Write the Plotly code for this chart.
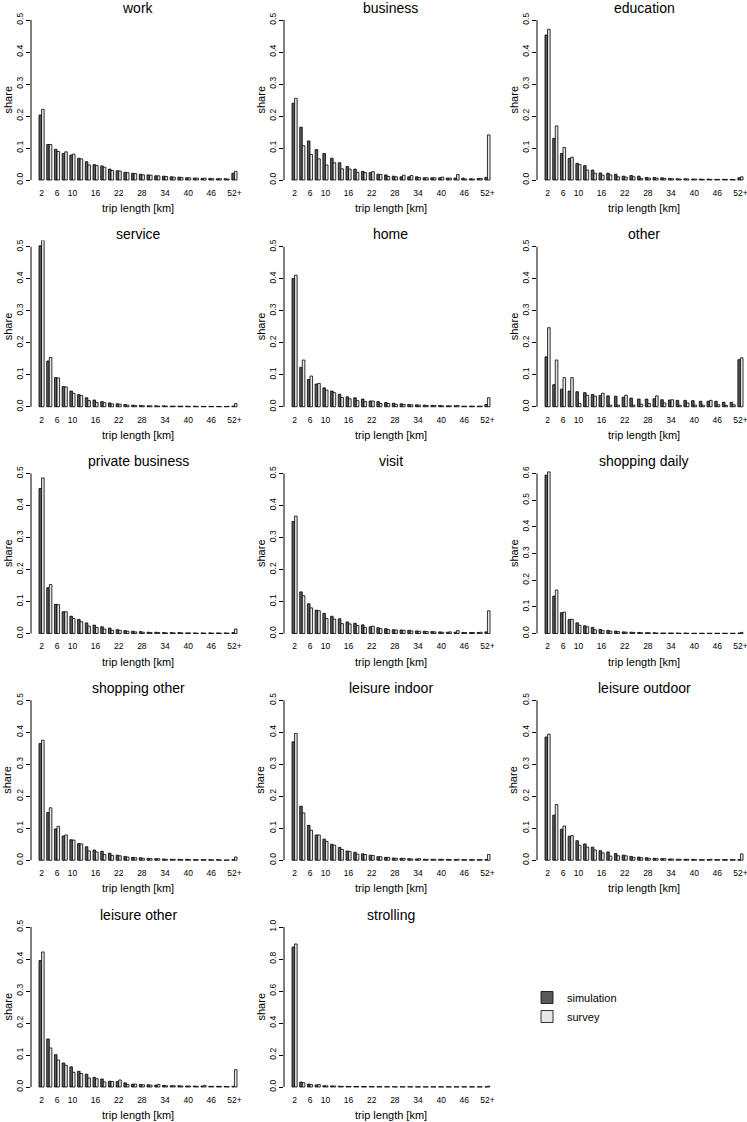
import plotly.graph_objects as go

# ---------------- data ----------------
trip_length = ["2", "4", "6", "8", "10", "12", "14", "16", "18", "20", "22", "24", "26",
               "28", "30", "32", "34", "36", "38", "40", "42", "44", "46", "48", "50", "52+"]
tick_labels = ["2", "6", "10", "16", "22", "28", "34", "40", "46", "52+"]

purposes = ["work", "business", "education", "service", "home", "other",
            "private business", "visit", "shopping daily", "shopping other",
            "leisure indoor", "leisure outdoor", "leisure other", "strolling"]
y_limits = [0.5, 0.5, 0.5, 0.5, 0.5, 0.5, 0.5, 0.5, 0.6, 0.5, 0.5, 0.5, 0.5, 1.0]
y_steps = [0.1, 0.1, 0.1, 0.1, 0.1, 0.1, 0.1, 0.1, 0.1, 0.1, 0.1, 0.1, 0.1, 0.2]

work_sim = [0.203, 0.111, 0.096, 0.083, 0.078, 0.068, 0.057, 0.048, 0.044, 0.034, 0.029, 0.024, 0.021,
            0.018, 0.016, 0.013, 0.012, 0.010, 0.009, 0.007, 0.006, 0.005, 0.005, 0.004, 0.004, 0.021]
work_survey = [0.221, 0.111, 0.089, 0.088, 0.081, 0.066, 0.047, 0.045, 0.040, 0.030, 0.028, 0.023, 0.020,
               0.016, 0.015, 0.013, 0.011, 0.009, 0.008, 0.007, 0.006, 0.006, 0.004, 0.004, 0.003, 0.027]
business_sim = [0.240, 0.165, 0.122, 0.095, 0.083, 0.068, 0.054, 0.042, 0.034, 0.027, 0.023, 0.018, 0.016,
                0.012, 0.010, 0.010, 0.010, 0.007, 0.007, 0.007, 0.006, 0.006, 0.006, 0.004, 0.005, 0.008]
business_survey = [0.255, 0.107, 0.080, 0.066, 0.047, 0.054, 0.035, 0.034, 0.024, 0.023, 0.026, 0.017, 0.011,
                   0.010, 0.015, 0.014, 0.008, 0.007, 0.007, 0.009, 0.006, 0.017, 0.003, 0.003, 0.005, 0.141]
education_sim = [0.453, 0.130, 0.083, 0.067, 0.052, 0.045, 0.031, 0.022, 0.021, 0.018, 0.012, 0.014, 0.012,
                 0.008, 0.008, 0.007, 0.005, 0.004, 0.004, 0.003, 0.003, 0.003, 0.002, 0.002, 0.002, 0.007]
education_survey = [0.471, 0.169, 0.102, 0.071, 0.048, 0.031, 0.021, 0.015, 0.016, 0.010, 0.009, 0.010, 0.005,
                    0.006, 0.006, 0.005, 0.004, 0.003, 0.003, 0.003, 0.002, 0.002, 0.002, 0.002, 0.001, 0.010]
service_sim = [0.503, 0.143, 0.091, 0.063, 0.049, 0.038, 0.028, 0.021, 0.016, 0.012, 0.009, 0.007, 0.005,
               0.004, 0.003, 0.003, 0.003, 0.002, 0.002, 0.002, 0.002, 0.001, 0.001, 0.001, 0.001, 0.002]
service_survey = [0.522, 0.154, 0.090, 0.062, 0.042, 0.035, 0.019, 0.013, 0.013, 0.009, 0.008, 0.005, 0.004,
                  0.003, 0.003, 0.002, 0.002, 0.002, 0.002, 0.001, 0.001, 0.001, 0.001, 0.001, 0.001, 0.010]
home_sim = [0.401, 0.123, 0.085, 0.071, 0.059, 0.049, 0.039, 0.031, 0.028, 0.024, 0.018, 0.016, 0.013,
            0.011, 0.009, 0.007, 0.006, 0.005, 0.004, 0.004, 0.003, 0.003, 0.002, 0.002, 0.002, 0.007]
home_survey = [0.411, 0.146, 0.096, 0.073, 0.052, 0.044, 0.029, 0.025, 0.019, 0.016, 0.018, 0.010, 0.010,
               0.008, 0.007, 0.006, 0.005, 0.004, 0.004, 0.003, 0.003, 0.004, 0.002, 0.002, 0.002, 0.028]
other_sim = [0.156, 0.069, 0.055, 0.049, 0.047, 0.044, 0.038, 0.035, 0.034, 0.033, 0.030, 0.027, 0.024,
             0.024, 0.025, 0.022, 0.021, 0.020, 0.020, 0.019, 0.017, 0.017, 0.017, 0.014, 0.014, 0.147]
other_survey = [0.247, 0.146, 0.091, 0.091, 0.010, 0.036, 0.033, 0.042, 0.005, 0.005, 0.036, 0.005, 0.008,
                0.010, 0.034, 0.012, 0.022, 0.005, 0.012, 0.005, 0.005, 0.020, 0.006, 0.004, 0.006, 0.153]
private_business_sim = [0.453, 0.143, 0.091, 0.068, 0.054, 0.044, 0.033, 0.026, 0.021, 0.017, 0.012, 0.009, 0.007,
                        0.006, 0.004, 0.004, 0.003, 0.003, 0.003, 0.002, 0.002, 0.002, 0.002, 0.002, 0.002, 0.003]
private_business_survey = [0.486, 0.153, 0.090, 0.068, 0.047, 0.037, 0.023, 0.019, 0.014, 0.010, 0.010, 0.007, 0.005,
                           0.004, 0.003, 0.003, 0.002, 0.002, 0.002, 0.002, 0.001, 0.001, 0.001, 0.001, 0.001, 0.014]
visit_sim = [0.350, 0.130, 0.093, 0.073, 0.063, 0.054, 0.046, 0.036, 0.032, 0.027, 0.021, 0.018, 0.015,
             0.012, 0.011, 0.010, 0.008, 0.007, 0.006, 0.005, 0.004, 0.004, 0.003, 0.003, 0.003, 0.005]
visit_survey = [0.367, 0.118, 0.080, 0.071, 0.047, 0.045, 0.031, 0.030, 0.025, 0.019, 0.023, 0.015, 0.012,
                0.011, 0.010, 0.008, 0.007, 0.006, 0.005, 0.004, 0.005, 0.009, 0.003, 0.003, 0.004, 0.071]
shopping_daily_sim = [0.594, 0.140, 0.078, 0.053, 0.040, 0.029, 0.023, 0.015, 0.012, 0.009, 0.006, 0.005, 0.004,
                      0.003, 0.003, 0.002, 0.002, 0.002, 0.002, 0.001, 0.001, 0.001, 0.001, 0.001, 0.001, 0.002]
shopping_daily_survey = [0.606, 0.163, 0.080, 0.053, 0.031, 0.025, 0.014, 0.011, 0.009, 0.007, 0.005, 0.004, 0.003,
                         0.003, 0.002, 0.002, 0.002, 0.001, 0.001, 0.001, 0.001, 0.001, 0.001, 0.001, 0.001, 0.004]
shopping_other_sim = [0.365, 0.149, 0.098, 0.076, 0.064, 0.052, 0.042, 0.032, 0.028, 0.022, 0.016, 0.012, 0.009,
                      0.008, 0.006, 0.005, 0.004, 0.003, 0.003, 0.003, 0.002, 0.002, 0.002, 0.002, 0.001, 0.002]
shopping_other_survey = [0.375, 0.164, 0.106, 0.079, 0.063, 0.051, 0.029, 0.026, 0.018, 0.015, 0.014, 0.010, 0.008,
                         0.006, 0.005, 0.005, 0.003, 0.003, 0.002, 0.002, 0.002, 0.002, 0.001, 0.001, 0.001, 0.010]
leisure_indoor_sim = [0.370, 0.169, 0.109, 0.079, 0.066, 0.050, 0.040, 0.029, 0.025, 0.020, 0.016, 0.011, 0.009,
                      0.007, 0.006, 0.005, 0.004, 0.003, 0.003, 0.003, 0.003, 0.002, 0.002, 0.002, 0.002, 0.002]
leisure_indoor_survey = [0.396, 0.148, 0.094, 0.079, 0.059, 0.047, 0.034, 0.027, 0.019, 0.018, 0.015, 0.011, 0.009,
                         0.006, 0.006, 0.004, 0.005, 0.003, 0.003, 0.003, 0.002, 0.003, 0.002, 0.002, 0.002, 0.018]
leisure_outdoor_sim = [0.385, 0.141, 0.097, 0.075, 0.061, 0.051, 0.041, 0.030, 0.026, 0.021, 0.016, 0.012, 0.010,
                       0.008, 0.006, 0.005, 0.004, 0.003, 0.003, 0.003, 0.002, 0.002, 0.002, 0.002, 0.002, 0.002]
leisure_outdoor_survey = [0.394, 0.174, 0.107, 0.077, 0.047, 0.041, 0.032, 0.023, 0.013, 0.014, 0.014, 0.009, 0.008,
                          0.006, 0.005, 0.005, 0.004, 0.003, 0.003, 0.002, 0.002, 0.003, 0.002, 0.002, 0.002, 0.020]
leisure_other_sim = [0.395, 0.150, 0.101, 0.075, 0.063, 0.049, 0.040, 0.030, 0.025, 0.018, 0.017, 0.013, 0.009,
                     0.008, 0.007, 0.006, 0.005, 0.004, 0.004, 0.003, 0.003, 0.003, 0.002, 0.002, 0.002, 0.002]
leisure_other_survey = [0.422, 0.122, 0.084, 0.068, 0.046, 0.042, 0.028, 0.026, 0.016, 0.017, 0.022, 0.008, 0.009,
                        0.007, 0.006, 0.008, 0.004, 0.004, 0.003, 0.003, 0.002, 0.005, 0.002, 0.002, 0.001, 0.054]
strolling_sim = [0.875, 0.031, 0.018, 0.013, 0.008, 0.007, 0.005, 0.004, 0.003, 0.003, 0.003, 0.002, 0.002,
                 0.002, 0.002, 0.002, 0.001, 0.001, 0.001, 0.001, 0.001, 0.001, 0.001, 0.001, 0.001, 0.001]
strolling_survey = [0.894, 0.027, 0.016, 0.015, 0.007, 0.006, 0.004, 0.003, 0.003, 0.002, 0.002, 0.002, 0.002,
                    0.001, 0.001, 0.001, 0.001, 0.001, 0.001, 0.001, 0.001, 0.001, 0.001, 0.001, 0.001, 0.005]

sim_series = [work_sim, business_sim, education_sim, service_sim, home_sim, other_sim,
              private_business_sim, visit_sim, shopping_daily_sim, shopping_other_sim,
              leisure_indoor_sim, leisure_outdoor_sim, leisure_other_sim, strolling_sim]
survey_series = [work_survey, business_survey, education_survey, service_survey, home_survey, other_survey,
                 private_business_survey, visit_survey, shopping_daily_survey, shopping_other_survey,
                 leisure_indoor_survey, leisure_outdoor_survey, leisure_other_survey, strolling_survey]

# ---------------- styling / layout ----------------
W, H = 747, 1122
FONT = "Liberation Sans, Arial, Helvetica, sans-serif"
SIM_COLOR = "#595959"
SURVEY_COLOR = "#e6e6e6"

col_left = [31, 284, 537]      # pixel x of the y-axis line
bar_offset = 8                 # px from axis line to first bar
bar_span = 198                 # px from first bar left edge to last bar right edge
row_top_tick = 20              # px of the top tick in row 0
row_pitch = 226.75
plot_h = 160                   # px from 0 to ylim
n = len(trip_length)
ppu = bar_span / (n - 1 + 2 / 3)   # px per category unit

fig = go.Figure()
layout = dict(
    width=W, height=H,
    margin=dict(l=0, r=0, t=0, b=0),
    paper_bgcolor="white", plot_bgcolor="white",
    barmode="group", bargap=1 / 3, bargroupgap=0,
    font=dict(family=FONT, color="black"),
    showlegend=True,
    legend=dict(x=527 / W, y=1 - 983 / H, xanchor="left", yanchor="top",
                font=dict(size=11, family=FONT), bgcolor="rgba(0,0,0,0)",
                tracegroupgap=0, itemwidth=30),
)
annotations = []
shapes = []

for i, name in enumerate(purposes):
    r, c = divmod(i, 3)
    k = i + 1
    xa = "x" if k == 1 else f"x{k}"
    ya = "y" if k == 1 else f"y{k}"
    ymax = y_limits[i]

    xl = col_left[c]
    xr = min(xl + bar_span + 2 * bar_offset, W)
    x_lo = -1 / 3 - bar_offset / ppu
    x_hi = (n - 1 + 1 / 3) + (xr - (xl + bar_offset + bar_span)) / ppu

    top_px = row_top_tick + r * row_pitch          # pixel of ylim
    base_px = top_px + plot_h                      # pixel of 0
    pad = 0.04 * plot_h
    dom_top, dom_bot = top_px - pad, base_px + pad

    fig.add_trace(go.Bar(x=trip_length, y=sim_series[i], name="simulation",
                         marker=dict(color=SIM_COLOR, line=dict(color="black", width=0.8)),
                         xaxis=xa, yaxis=ya, legendgroup="sim", showlegend=(i == 0),
                         offsetgroup="sim"))
    fig.add_trace(go.Bar(x=trip_length, y=survey_series[i], name="survey",
                         marker=dict(color=SURVEY_COLOR, line=dict(color="black", width=0.8)),
                         xaxis=xa, yaxis=ya, legendgroup="survey", showlegend=(i == 0),
                         offsetgroup="survey"))

    layout[f"xaxis{'' if k == 1 else k}"] = dict(
        domain=[xl / W, xr / W], anchor=ya, type="category",
        categoryorder="array", categoryarray=trip_length,
        range=[x_lo, x_hi], showline=False, showgrid=False, zeroline=False,
        ticks="", tickmode="array", tickvals=tick_labels, ticktext=tick_labels,
        tickfont=dict(size=8.5, family=FONT), fixedrange=True,
    )
    layout[f"yaxis{'' if k == 1 else k}"] = dict(
        domain=[1 - dom_bot / H, 1 - dom_top / H], anchor=xa,
        range=[-0.04 * ymax, 1.04 * ymax], showline=False, showgrid=False, zeroline=False,
        ticks="outside", ticklen=4, tickwidth=1, tickcolor="black",
        tick0=0, dtick=y_steps[i], tickformat=".1f", tickangle=-90,
        tickfont=dict(size=8.5, family=FONT), fixedrange=True,
    )
    # R-style axis line only between first and last tick
    shapes.append(dict(type="line", xref=f"{xa} domain", yref=ya, x0=0, x1=0,
                       y0=0, y1=ymax, line=dict(color="black", width=1)))

    cx = (xl + xl + bar_span + 2 * bar_offset) / 2
    annotations.append(dict(text=name, x=cx / W, y=1 - (top_px - 12.5) / H,
                            xref="paper", yref="paper", showarrow=False,
                            xanchor="center", yanchor="middle",
                            font=dict(size=14, family=FONT)))
    annotations.append(dict(text="share", x=(xl - 23.5) / W, y=1 - ((dom_top + dom_bot) / 2) / H,
                            xref="paper", yref="paper", showarrow=False, textangle=-90,
                            xanchor="center", yanchor="middle",
                            font=dict(size=11, family=FONT)))
    annotations.append(dict(text="trip length [km]", x=cx / W, y=1 - (base_px + 28) / H,
                            xref="paper", yref="paper", showarrow=False,
                            xanchor="center", yanchor="middle",
                            font=dict(size=11, family=FONT)))

layout["annotations"] = annotations
layout["shapes"] = shapes
fig.update_layout(**layout)
fig.write_html("out.html",
               config={"displayModeBar": False},
               post_script="document.body.style.margin='0';document.body.style.padding='0';"
                           "document.documentElement.style.overflow='hidden';")
